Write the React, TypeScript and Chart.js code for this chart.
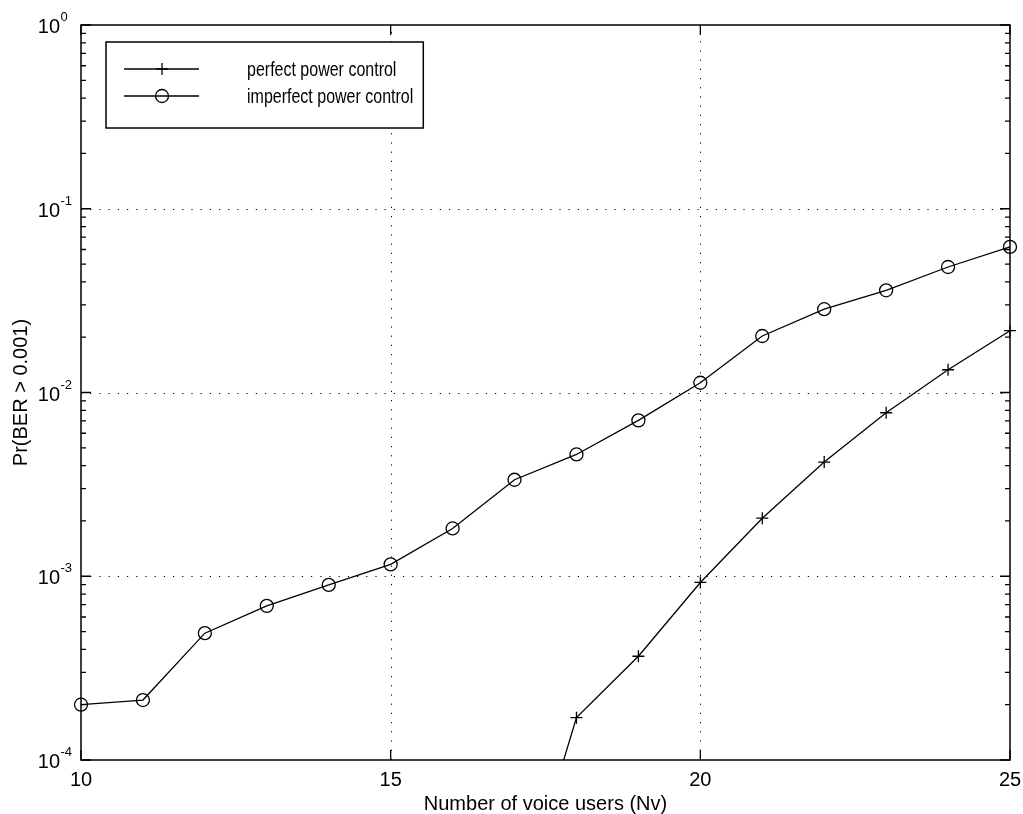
import React, { useEffect, useRef } from 'react';
import { Chart, registerables } from 'chart.js';

Chart.register(...registerables);

// ---- data ----
const users = [10, 11, 12, 13, 14, 15, 16, 17, 18, 19, 20, 21, 22, 23, 24, 25];
const imperfectPC = [2.0e-4, 2.12e-4, 4.9e-4, 6.9e-4, 8.97e-4, 1.16e-3, 1.82e-3, 3.35e-3, 4.6e-3, 7.05e-3, 1.13e-2, 2.03e-2, 2.84e-2, 3.6e-2, 4.82e-2, 6.2e-2];
const perfectUsers = [17, 18, 19, 20, 21, 22, 23, 24, 25];
const perfectPC = [1.3e-5, 1.7e-4, 3.67e-4, 9.25e-4, 2.07e-3, 4.18e-3, 7.76e-3, 1.33e-2, 2.17e-2];
const seriesLabels = ['perfect power control', 'imperfect power control'];
const xTicks = [10, 15, 20, 25];
const yDecades = [-4, -3, -2, -1, 0];
const xTitle = 'Number of voice users (Nv)';
const yTitle = 'Pr(BER > 0.001)';

const FONT = '"Liberation Sans", Arial, Helvetica, sans-serif';

function drawMarker(ctx: CanvasRenderingContext2D, style: string, cx: number, cy: number) {
  ctx.beginPath();
  if (style === 'circle') {
    ctx.arc(cx, cy, 6.5, 0, Math.PI * 2);
  } else {
    ctx.moveTo(cx - 6, cy);
    ctx.lineTo(cx + 6, cy);
    ctx.moveTo(cx, cy - 6);
    ctx.lineTo(cx, cy + 6);
  }
  ctx.stroke();
}

const matlabPlugin = {
  id: 'matlabAxes',
  beforeDatasetsDraw(chart: any) {
    const { ctx, chartArea: a, scales } = chart;
    const x = scales.x;
    const y = scales.y;
    ctx.save();
    ctx.strokeStyle = '#000';
    ctx.lineWidth = 1;
    ctx.setLineDash([1.2, 8]);
    for (const t of xTicks) {
      const px = Math.round(x.getPixelForValue(t)) + 0.5;
      if (px <= a.left + 2 || px >= a.right - 2) continue;
      ctx.beginPath();
      ctx.moveTo(px, a.bottom);
      ctx.lineTo(px, a.top);
      ctx.stroke();
    }
    for (const d of yDecades) {
      const py = Math.round(y.getPixelForValue(Math.pow(10, d))) + 0.5;
      if (py <= a.top + 2 || py >= a.bottom - 2) continue;
      ctx.beginPath();
      ctx.moveTo(a.left, py);
      ctx.lineTo(a.right, py);
      ctx.stroke();
    }
    ctx.restore();
  },
  afterDraw(chart: any) {
    const { ctx, chartArea: a, scales } = chart;
    const x = scales.x;
    const y = scales.y;
    ctx.save();
    ctx.strokeStyle = '#000';
    ctx.fillStyle = '#000';
    ctx.setLineDash([]);
    ctx.lineWidth = 1.5;
    // box
    ctx.strokeRect(a.left, a.top, a.right - a.left, a.bottom - a.top);

    // x ticks (inward, bottom and top)
    ctx.lineWidth = 1.3;
    for (const t of xTicks) {
      const px = x.getPixelForValue(t);
      ctx.beginPath();
      ctx.moveTo(px, a.bottom);
      ctx.lineTo(px, a.bottom - 10);
      ctx.moveTo(px, a.top);
      ctx.lineTo(px, a.top + 10);
      ctx.stroke();
    }
    // y ticks: majors and minors, both sides
    for (const d of yDecades) {
      const py = y.getPixelForValue(Math.pow(10, d));
      ctx.beginPath();
      ctx.moveTo(a.left, py);
      ctx.lineTo(a.left + 10, py);
      ctx.moveTo(a.right, py);
      ctx.lineTo(a.right - 10, py);
      ctx.stroke();
      if (d < 0) {
        for (let m = 2; m <= 9; m++) {
          const pm = y.getPixelForValue(m * Math.pow(10, d));
          ctx.beginPath();
          ctx.moveTo(a.left, pm);
          ctx.lineTo(a.left + 5, pm);
          ctx.moveTo(a.right, pm);
          ctx.lineTo(a.right - 5, pm);
          ctx.stroke();
        }
      }
    }

    // x tick labels
    ctx.font = `20px ${FONT}`;
    ctx.textAlign = 'center';
    ctx.textBaseline = 'alphabetic';
    for (const t of xTicks) {
      ctx.fillText(String(t), x.getPixelForValue(t), a.bottom + 26);
    }
    // y tick labels 10^d
    for (const d of yDecades) {
      const py = y.getPixelForValue(Math.pow(10, d));
      ctx.font = `20px ${FONT}`;
      ctx.textAlign = 'right';
      ctx.fillText('10', 60, py + 8);
      ctx.font = `13px ${FONT}`;
      ctx.textAlign = 'left';
      ctx.fillText(d === 0 ? '0' : '-' + String(-d), 60.5, py - 4);
    }

    // axis titles
    ctx.font = `20px ${FONT}`;
    ctx.textAlign = 'center';
    ctx.fillText(xTitle, (a.left + a.right) / 2, a.bottom + 50);
    ctx.save();
    ctx.translate(27, (a.top + a.bottom) / 2);
    ctx.rotate(-Math.PI / 2);
    ctx.fillText(yTitle, 0, 0);
    ctx.restore();

    // legend
    const lx = 106;
    const ly = 42;
    const sx = 0.8;
    ctx.font = `20px ${FONT}`;
    const textX = 247;
    let maxW = 0;
    chart.data.datasets.forEach((ds: any) => {
      maxW = Math.max(maxW, ctx.measureText(ds.label).width * sx);
    });
    const boxW = textX + maxW + 10 - lx;
    const boxH = 86;
    ctx.fillStyle = '#fff';
    ctx.fillRect(lx, ly, boxW, boxH);
    ctx.fillStyle = '#000';
    ctx.lineWidth = 1.5;
    ctx.strokeRect(lx, ly, boxW, boxH);
    ctx.lineWidth = 1.3;
    chart.data.datasets.forEach((ds: any, i: number) => {
      const ry = ly + 27 + i * 27;
      ctx.beginPath();
      ctx.moveTo(124, ry);
      ctx.lineTo(199, ry);
      ctx.stroke();
      drawMarker(ctx, ds.pointStyle, 162, ry);
      ctx.save();
      ctx.translate(textX, ry + 7);
      ctx.scale(sx, 1);
      ctx.textAlign = 'left';
      ctx.fillText(ds.label, 0, 0);
      ctx.restore();
    });
    ctx.restore();
  },
};

export default function App() {
  const canvasRef = useRef<HTMLCanvasElement | null>(null);

  useEffect(() => {
    const canvas = canvasRef.current;
    if (!canvas) return;
    const chart = new Chart(canvas, {
      type: 'line',
      data: {
        datasets: [
          {
            label: seriesLabels[0],
            data: perfectUsers.map((u, i) => ({ x: u, y: perfectPC[i] })),
            borderColor: '#000',
            borderWidth: 1.3,
            pointStyle: 'cross',
            pointRadius: 6,
            pointBorderWidth: 1.3,
            pointBorderColor: '#000',
            pointBackgroundColor: 'rgba(0,0,0,0)',
            tension: 0,
            clip: { left: 10, top: 10, right: 10, bottom: 0 },
          } as any,
          {
            label: seriesLabels[1],
            data: users.map((u, i) => ({ x: u, y: imperfectPC[i] })),
            borderColor: '#000',
            borderWidth: 1.3,
            pointStyle: 'circle',
            pointRadius: 6.5,
            pointBorderWidth: 1.3,
            pointBorderColor: '#000',
            pointBackgroundColor: 'rgba(0,0,0,0)',
            tension: 0,
            clip: { left: 10, top: 10, right: 10, bottom: 10 },
          } as any,
        ],
      },
      options: {
        animation: false,
        responsive: false,
        events: [],
        layout: { padding: { left: 81, right: 13, top: 25, bottom: 54 } },
        plugins: {
          legend: { display: false },
          tooltip: { enabled: false },
        },
        scales: {
          x: { type: 'linear', min: 10, max: 25, display: false },
          y: { type: 'logarithmic', min: 1e-4, max: 1, display: false },
        },
      },
      plugins: [matlabPlugin],
    });
    return () => chart.destroy();
  }, []);

  return (
    <div style={{ position: 'absolute', left: 0, top: 0, width: 1023, height: 814, background: '#fff' }}>
      <canvas ref={canvasRef} width={1023} height={814} style={{ display: 'block' }} />
    </div>
  );
}
